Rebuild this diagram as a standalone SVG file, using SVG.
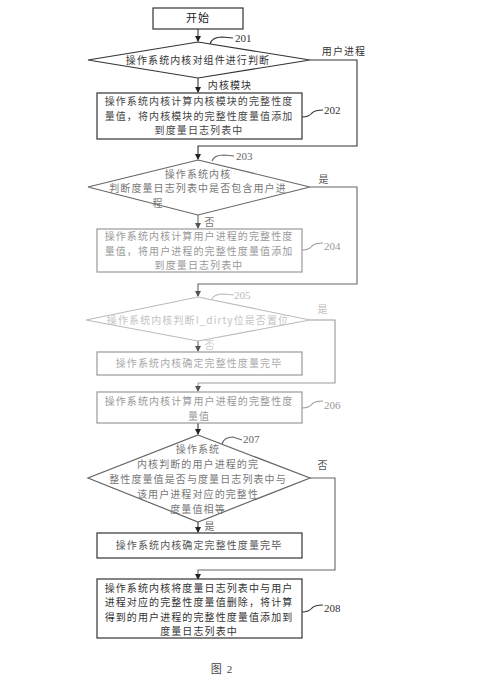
<svg xmlns="http://www.w3.org/2000/svg" width="500" height="682" viewBox="0 0 500 682">
<defs>
<marker id="ah" markerWidth="6" markerHeight="6" refX="5" refY="3" orient="auto" markerUnits="userSpaceOnUse"><path d="M0,0 L6,3 L0,6 Z" fill="#222"/></marker>
<marker id="ahl" markerWidth="6" markerHeight="6" refX="5" refY="3" orient="auto" markerUnits="userSpaceOnUse"><path d="M0,0 L6,3 L0,6 Z" fill="#555"/></marker>
</defs>
<style>
.t{font-family:"Noto Sans CJK SC",sans-serif;font-size:10px;letter-spacing:1.1px;text-anchor:middle;}
.n{font-family:"Liberation Serif",serif;font-size:11px;}
.s{fill:#fff;stroke-width:1.2;}
.c{fill:none;stroke-width:1.1;}
.d1{stroke:#333;}
.d2{stroke:#666;}
.d3{stroke:#999;}
.d4{stroke:#bbb;}
</style>
<rect width="500" height="682" fill="#fff"/>
<g id="connectors">
<line class="c d1" x1="198" y1="29" x2="198" y2="41" marker-end="url(#ah)"/>
<path class="c d1" d="M210,44 Q212,37 222,37 L233,38"/>
<line class="c d1" x1="198" y1="78" x2="198" y2="92" marker-end="url(#ah)"/>
<path class="c d1" d="M302,117 Q309,117 312,113 Q315,110 323,110"/>
<polyline class="c d1" points="310,60 357,60 357,146 198,146 198,159" marker-end="url(#ah)"/>
<path class="c d2" d="M212,161 Q214,155 224,155 L234,156"/>
<line class="c d2" x1="198" y1="215" x2="198" y2="228" marker-end="url(#ahl)"/>
<path class="c d3" d="M302,250 Q309,250 312,246 Q315,243 323,243"/>
<polyline class="c d2" points="310,187 357,187 357,284 198,284 198,296" marker-end="url(#ahl)"/>
<path class="c d4" d="M212,299 Q214,294 224,294 L234,295"/>
<line class="c d2" x1="198" y1="340" x2="198" y2="351" marker-end="url(#ahl)"/>
<polyline class="c d3" points="310,320 335,320 335,383 198,383 198,391" marker-end="url(#ahl)"/>
<path class="c d3" d="M302,408 Q309,408 312,404 Q315,401 323,401"/>
<line class="c d1" x1="198" y1="423" x2="198" y2="434" marker-end="url(#ah)"/>
<path class="c d2" d="M222,444 Q224,437 233,437 L242,440"/>
<line class="c d1" x1="198" y1="522" x2="198" y2="532" marker-end="url(#ah)"/>
<polyline class="c d2" points="310,478 335,478 335,570 198,570 198,579" marker-end="url(#ah)"/>
<path class="c d1" d="M302,612 Q309,612 312,608 Q315,605 323,605"/>
</g>
<g id="start"><rect class="s d1" x="153" y="8" width="90" height="21"/><text class="t" x="198" y="22" fill="#222" style="font-size:11px">开始</text></g>
<g id="n201"><polygon class="s d1" points="198,42 310,60 198,78 88,60"/><text class="t" x="198" y="63.5" fill="#333">操作系统内核对组件进行判断</text><text class="n" x="235" y="42" fill="#333">201</text><text class="t" x="344" y="55" fill="#333">用户进程</text><text class="t" x="230" y="89" fill="#333">内核模块</text></g>
<g id="n202"><rect class="s d1" x="97" y="93" width="205" height="46"/><text class="t" fill="#444"><tspan x="199" y="105">操作系统内核计算内核模块的完整性度</tspan><tspan x="199" y="119.5">量值，将内核模块的完整性度量值添加</tspan><tspan x="199" y="134">到度量日志列表中</tspan></text><text class="n" x="324" y="114" fill="#333">202</text></g>
<g id="n203"><polygon class="s d2" points="198,160 310,187 198,215 88,187"/><text class="t" fill="#777"><tspan x="198" y="177.5">操作系统内核</tspan><tspan x="198" y="192">判断度量日志列表中是否包含用户进</tspan><tspan x="158" y="206.5">程</tspan></text><text class="n" x="236" y="160" fill="#666">203</text><text class="t" x="324" y="183" fill="#555">是</text><text class="t" x="210" y="226" fill="#777">否</text></g>
<g id="n204"><rect class="s d3" x="97" y="229" width="205" height="43"/><text class="t" fill="#999"><tspan x="199" y="240">操作系统内核计算用户进程的完整性度</tspan><tspan x="199" y="254.5">量值，将用户进程的完整性度量值添加</tspan><tspan x="199" y="269">到度量日志列表中</tspan></text><text class="n" x="324" y="250" fill="#999">204</text></g>
<g id="n205"><polygon class="s d4" points="198,297 310,320 198,341 86,320"/><text class="t" x="198" y="323.5" fill="#c4c4c4">操作系统内核判断I_dirty位是否置位</text><text class="n" x="234" y="299" fill="#bbb">205</text><text class="t" x="323" y="313" fill="#bbb">是</text><text class="t" x="210" y="349" fill="#ccc">否</text></g>
<g id="n205b"><rect class="s d3" x="97" y="352" width="205" height="23"/><text class="t" x="199" y="367" fill="#aaa">操作系统内核确定完整性度量完毕</text></g>
<g id="n206"><rect class="s d3" x="97" y="392" width="205" height="31"/><text class="t" fill="#999"><tspan x="199" y="405">操作系统内核计算用户进程的完整性度</tspan><tspan x="199" y="419.5">量值</tspan></text><text class="n" x="324" y="409" fill="#999">206</text></g>
<g id="n207"><polygon class="s d2" points="198,435 310,478 198,522 88,478"/><text class="t" fill="#777"><tspan x="198" y="452.5">操作系统</tspan><tspan x="198" y="467.5">内核判断的用户进程的完</tspan><tspan x="198" y="482.5">整性度量值是否与度量日志列表中与</tspan><tspan x="198" y="497.5">该用户进程对应的完整性</tspan><tspan x="198" y="512.5">度量值相等</tspan></text><text class="n" x="243" y="443" fill="#666">207</text><text class="t" x="323" y="469" fill="#555">否</text><text class="t" x="210" y="530" fill="#666">是</text></g>
<g id="n207b"><rect class="s d1" x="97" y="533" width="205" height="25"/><text class="t" x="199" y="549" fill="#555">操作系统内核确定完整性度量完毕</text></g>
<g id="n208"><rect class="s d1" x="97" y="579" width="205" height="59"/><text class="t" fill="#333"><tspan x="199" y="591.5">操作系统内核将度量日志列表中与用户</tspan><tspan x="199" y="606">进程对应的完整性度量值删除，将计算</tspan><tspan x="199" y="620.5">得到的用户进程的完整性度量值添加到</tspan><tspan x="199" y="635">度量日志列表中</tspan></text><text class="n" x="324" y="612" fill="#333">208</text></g>
<text class="t" x="222" y="673" fill="#444" style="font-family:'Liberation Serif','Noto Sans CJK SC',serif;font-size:11px">图 2</text>
</svg>
